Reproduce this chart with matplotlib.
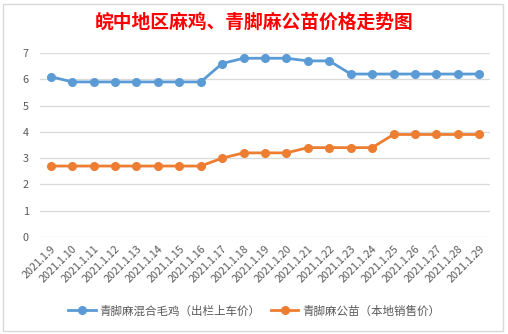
import numpy as np
import matplotlib.pyplot as plt
from matplotlib.patches import Rectangle

plt.rcParams['font.family'] = ['Noto Sans CJK SC', 'DejaVu Sans']

# data
dates = ['2021.1.9', '2021.1.10', '2021.1.11', '2021.1.12', '2021.1.13', '2021.1.14',
         '2021.1.15', '2021.1.16', '2021.1.17', '2021.1.18', '2021.1.19', '2021.1.20',
         '2021.1.21', '2021.1.22', '2021.1.23', '2021.1.24', '2021.1.25', '2021.1.26',
         '2021.1.27', '2021.1.28', '2021.1.29']
maoji = [6.1, 5.9, 5.9, 5.9, 5.9, 5.9, 5.9, 5.9, 6.6, 6.8, 6.8, 6.8,
         6.7, 6.7, 6.2, 6.2, 6.2, 6.2, 6.2, 6.2, 6.2]
gongmiao = [2.7, 2.7, 2.7, 2.7, 2.7, 2.7, 2.7, 2.7, 3.0, 3.2, 3.2, 3.2,
            3.4, 3.4, 3.4, 3.4, 3.9, 3.9, 3.9, 3.9, 3.9]
name1 = '青脚麻混合毛鸡（出栏上车价）'
name2 = '青脚麻公苗（本地销售价）'
title = '皖中地区麻鸡、青脚麻公苗价格走势图'

blue = '#5B9BD5'
orange = '#ED7D31'
txt = '#595959'

fig = plt.figure(figsize=(5.08, 3.34), dpi=100)
ax = fig.add_axes([40/508, 1-237/334, 450/508, 184/334])

x = np.arange(len(dates))
ax.plot(x, maoji, color=blue, lw=2.0, marker='o', ms=5.5, label=name1)
ax.plot(x, gongmiao, color=orange, lw=2.0, marker='o', ms=5.5, label=name2)

ax.set_xlim(-0.5, len(dates) - 0.5)
ax.set_ylim(0, 7)
ax.set_yticks(range(0, 8))
ax.grid(axis='y', color='#D9D9D9', lw=0.9)
ax.set_axisbelow(True)
for s in ax.spines.values():
    s.set_visible(False)
ax.tick_params(length=0, colors=txt, labelsize=7.8)
ax.tick_params(axis='y', pad=8)
ax.tick_params(axis='x', pad=5)
ax.set_xticks(x)
ax.set_xticklabels(dates, rotation=45, ha='right', va='top', rotation_mode='anchor')
for lab in ax.get_xticklabels():
    lab.set_x(lab.get_position()[0])

fig.text(0.5, 1-22/334, title, color='red', fontsize=13.5, fontweight='bold',
         ha='center', va='center')

fig.legend(loc='center', bbox_to_anchor=(0.5, 1-311/334), ncol=2, frameon=False,
           fontsize=8.3, labelcolor=txt, handlelength=2.4, handletextpad=0.3,
           columnspacing=0.9)

# chart border
fig.patches.append(Rectangle((3/508, 3/334), 500/508, 327/334, transform=fig.transFigure,
                             fill=False, ec='#D9D9D9', lw=1))

fig.savefig('out.png', dpi=100)
